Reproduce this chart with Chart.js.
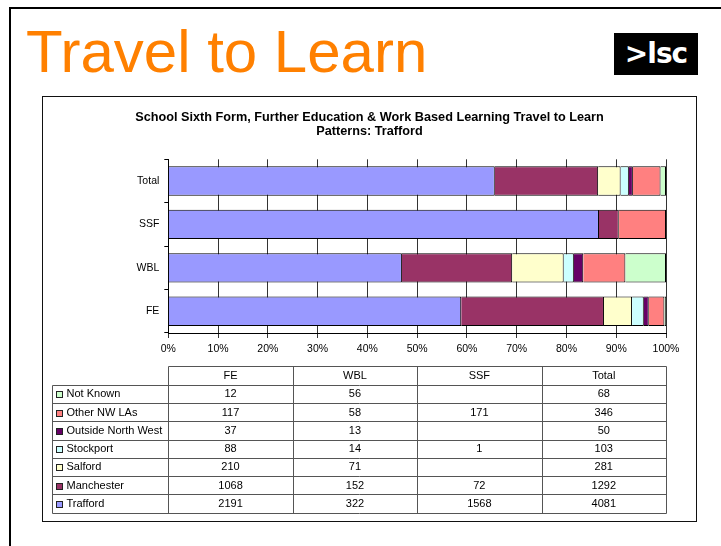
<!DOCTYPE html>
<html>
<head>
<meta charset="utf-8">
<title>Travel to Learn</title>
<script src="https://cdn.jsdelivr.net/npm/chart.js@4/dist/chart.umd.min.js"></script>
<style>
  body { margin: 0; background: #fff; width: 721px; height: 546px; overflow: hidden; position: relative; }
  #slide { position: absolute; left: 9px; top: 7px; width: 800px; height: 600px; border-left: 2px solid #000; border-top: 2px solid #000; }
  #titulo { position: absolute; left: 26px; top: 22px; font: 60px/60px "Liberation Sans", Arial, sans-serif; color: #ff8000; white-space: nowrap; }
  #logo { position: absolute; left: 614px; top: 33px; width: 84px; height: 42px; background: #000; color: #fff;
          font: bold 28px/42px "DejaVu Sans", sans-serif; text-align: center; letter-spacing: -1px; }
  #caja { position: absolute; left: 42px; top: 96px; width: 653px; height: 424px; border: 1px solid #111; }
  #caja canvas { display: block; }
</style>
</head>
<body>
<div id="slide"></div>
<div id="titulo">Travel to Learn</div>
<div id="logo">&gt;lsc</div>
<div id="caja"><canvas id="myChart" width="653" height="424"></canvas></div>

<script>
// datos (FE, WBL, SSF, Total)
const categorias = ["FE", "WBL", "SSF", "Total"];
const nombresSeries = ["Trafford", "Manchester", "Salford", "Stockport", "Outside North West", "Other NW LAs", "Not Known"];
const trafford = [2191, 322, 1568, 4081];
const manchester = [1068, 152, 72, 1292];
const salford = [210, 71, null, 281];
const stockport = [88, 14, 1, 103];
const outsideNW = [37, 13, null, 50];
const otherNW = [117, 58, 171, 346];
const notKnown = [12, 56, null, 68];
const xTickLabels = ["0%", "10%", "20%", "30%", "40%", "50%", "60%", "70%", "80%", "90%", "100%"];
const tituloGrafico = ["School Sixth Form, Further Education & Work Based Learning Travel to Learn", "Patterns: Trafford"];

const colores = ["#9999ff", "#993366", "#ffffcc", "#ccffff", "#660066", "#ff8080", "#ccffcc"];
const series = [trafford, manchester, salford, stockport, outsideNW, otherNW, notKnown];

// 100% apilado: cada barra se normaliza con el total de su categoria
const totales = categorias.map((c, i) => series.reduce((s, arr) => s + (arr[i] || 0), 0));

const datasets = series.map((arr, k) => ({
    label: nombresSeries[k],
    data: arr.map((v, i) => v == null ? null : v / totales[i] * 100),
    backgroundColor: colores[k],
    borderColor: "#000",
    borderWidth: 1,
    categoryPercentage: 1,
    barPercentage: 0.676
}));

const fuente = "'Liberation Sans', Arial, sans-serif";
Chart.defaults.font.family = fuente;
Chart.defaults.color = "#000";

// tabla de datos debajo del grafico
const tablaPlugin = {
    id: "tablaDatos",
    afterDraw(chart) {
        const ctx = chart.ctx;
        const area = chart.chartArea;
        const izq = 9.5;
        const arriba = Math.round(chart.scales.x.bottom + 3) + 0.5;
        const altoFila = 18.25;
        const anchoCol = (area.right - area.left) / categorias.length;
        const x0 = Math.round(area.left) + 0.5;
        const filas = nombresSeries.map((n, k) => k).reverse();
        const abajo = arriba + altoFila * (filas.length + 1);

        ctx.save();
        ctx.strokeStyle = "#555";
        ctx.lineWidth = 1;
        ctx.beginPath();
        // lineas horizontales
        ctx.moveTo(x0, arriba);
        ctx.lineTo(Math.round(area.right) + 0.5, arriba);
        for (let r = 1; r <= filas.length + 1; r++) {
            const y = Math.round(arriba + r * altoFila) + 0.5;
            ctx.moveTo(izq, y);
            ctx.lineTo(Math.round(area.right) + 0.5, y);
        }
        // lineas verticales
        ctx.moveTo(izq, Math.round(arriba + altoFila) + 0.5);
        ctx.lineTo(izq, Math.round(abajo) + 0.5);
        for (let c = 0; c <= categorias.length; c++) {
            const x = Math.round(area.left + c * anchoCol) + 0.5;
            ctx.moveTo(x, arriba);
            ctx.lineTo(x, Math.round(abajo) + 0.5);
        }
        ctx.stroke();

        ctx.font = "11px " + fuente;
        ctx.fillStyle = "#000";
        ctx.textBaseline = "middle";
        ctx.textAlign = "center";
        categorias.forEach((c, i) => {
            ctx.fillText(c, area.left + (i + 0.5) * anchoCol, arriba + altoFila / 2 + 0.5);
        });

        filas.forEach((k, r) => {
            const yc = arriba + (r + 1.5) * altoFila + 0.5;
            // marcador de leyenda
            ctx.fillStyle = colores[k];
            ctx.fillRect(13.5, Math.round(yc - 3) + 0.5, 6, 6);
            ctx.strokeStyle = "#222";
            ctx.strokeRect(13.5, Math.round(yc - 3) + 0.5, 6, 6);
            ctx.fillStyle = "#000";
            ctx.textAlign = "left";
            ctx.fillText(nombresSeries[k], 23.5, yc);
            ctx.textAlign = "center";
            series[k].forEach((v, i) => {
                if (v != null) ctx.fillText(String(v), area.left + (i + 0.5) * anchoCol, yc);
            });
        });
        ctx.restore();
    }
};

const config = {
    type: "bar",
    data: { labels: categorias, datasets },
    options: {
        indexAxis: "y",
        responsive: false,
        animation: false,
        // padding simetrico para que el titulo quede centrado en la caja
        layout: { padding: { left: 30, right: 30, top: 0, bottom: 158 } },
        plugins: {
            legend: { display: false },
            tooltip: { enabled: false },
            title: {
                display: true,
                text: tituloGrafico,
                color: "#000",
                font: { size: 12.7, weight: "bold", lineHeight: 14 / 12.7 },
                padding: { top: 13.2, bottom: 21.1 }
            }
        },
        scales: {
            x: {
                stacked: true,
                min: 0,
                max: 100,
                ticks: {
                    stepSize: 10,
                    padding: 5,
                    font: { size: 10.5 },
                    callback: (v, i) => xTickLabels[i]
                },
                grid: { color: "#333", tickLength: 5 },
                border: { color: "#000" },
                afterFit(scale) { scale.height = 30; }
            },
            y: {
                stacked: true,
                reverse: true,
                z: 1,
                ticks: { padding: 5, font: { size: 10.5 } },
                grid: { drawOnChartArea: false, color: "#000", tickLength: 4 },
                border: { color: "#000" },
                afterFit(scale) { scale.width = 95.3; }
            }
        }
    },
    plugins: [tablaPlugin]
};

const grafico = new Chart(document.getElementById("myChart"), config);
</script>
</body>
</html>
